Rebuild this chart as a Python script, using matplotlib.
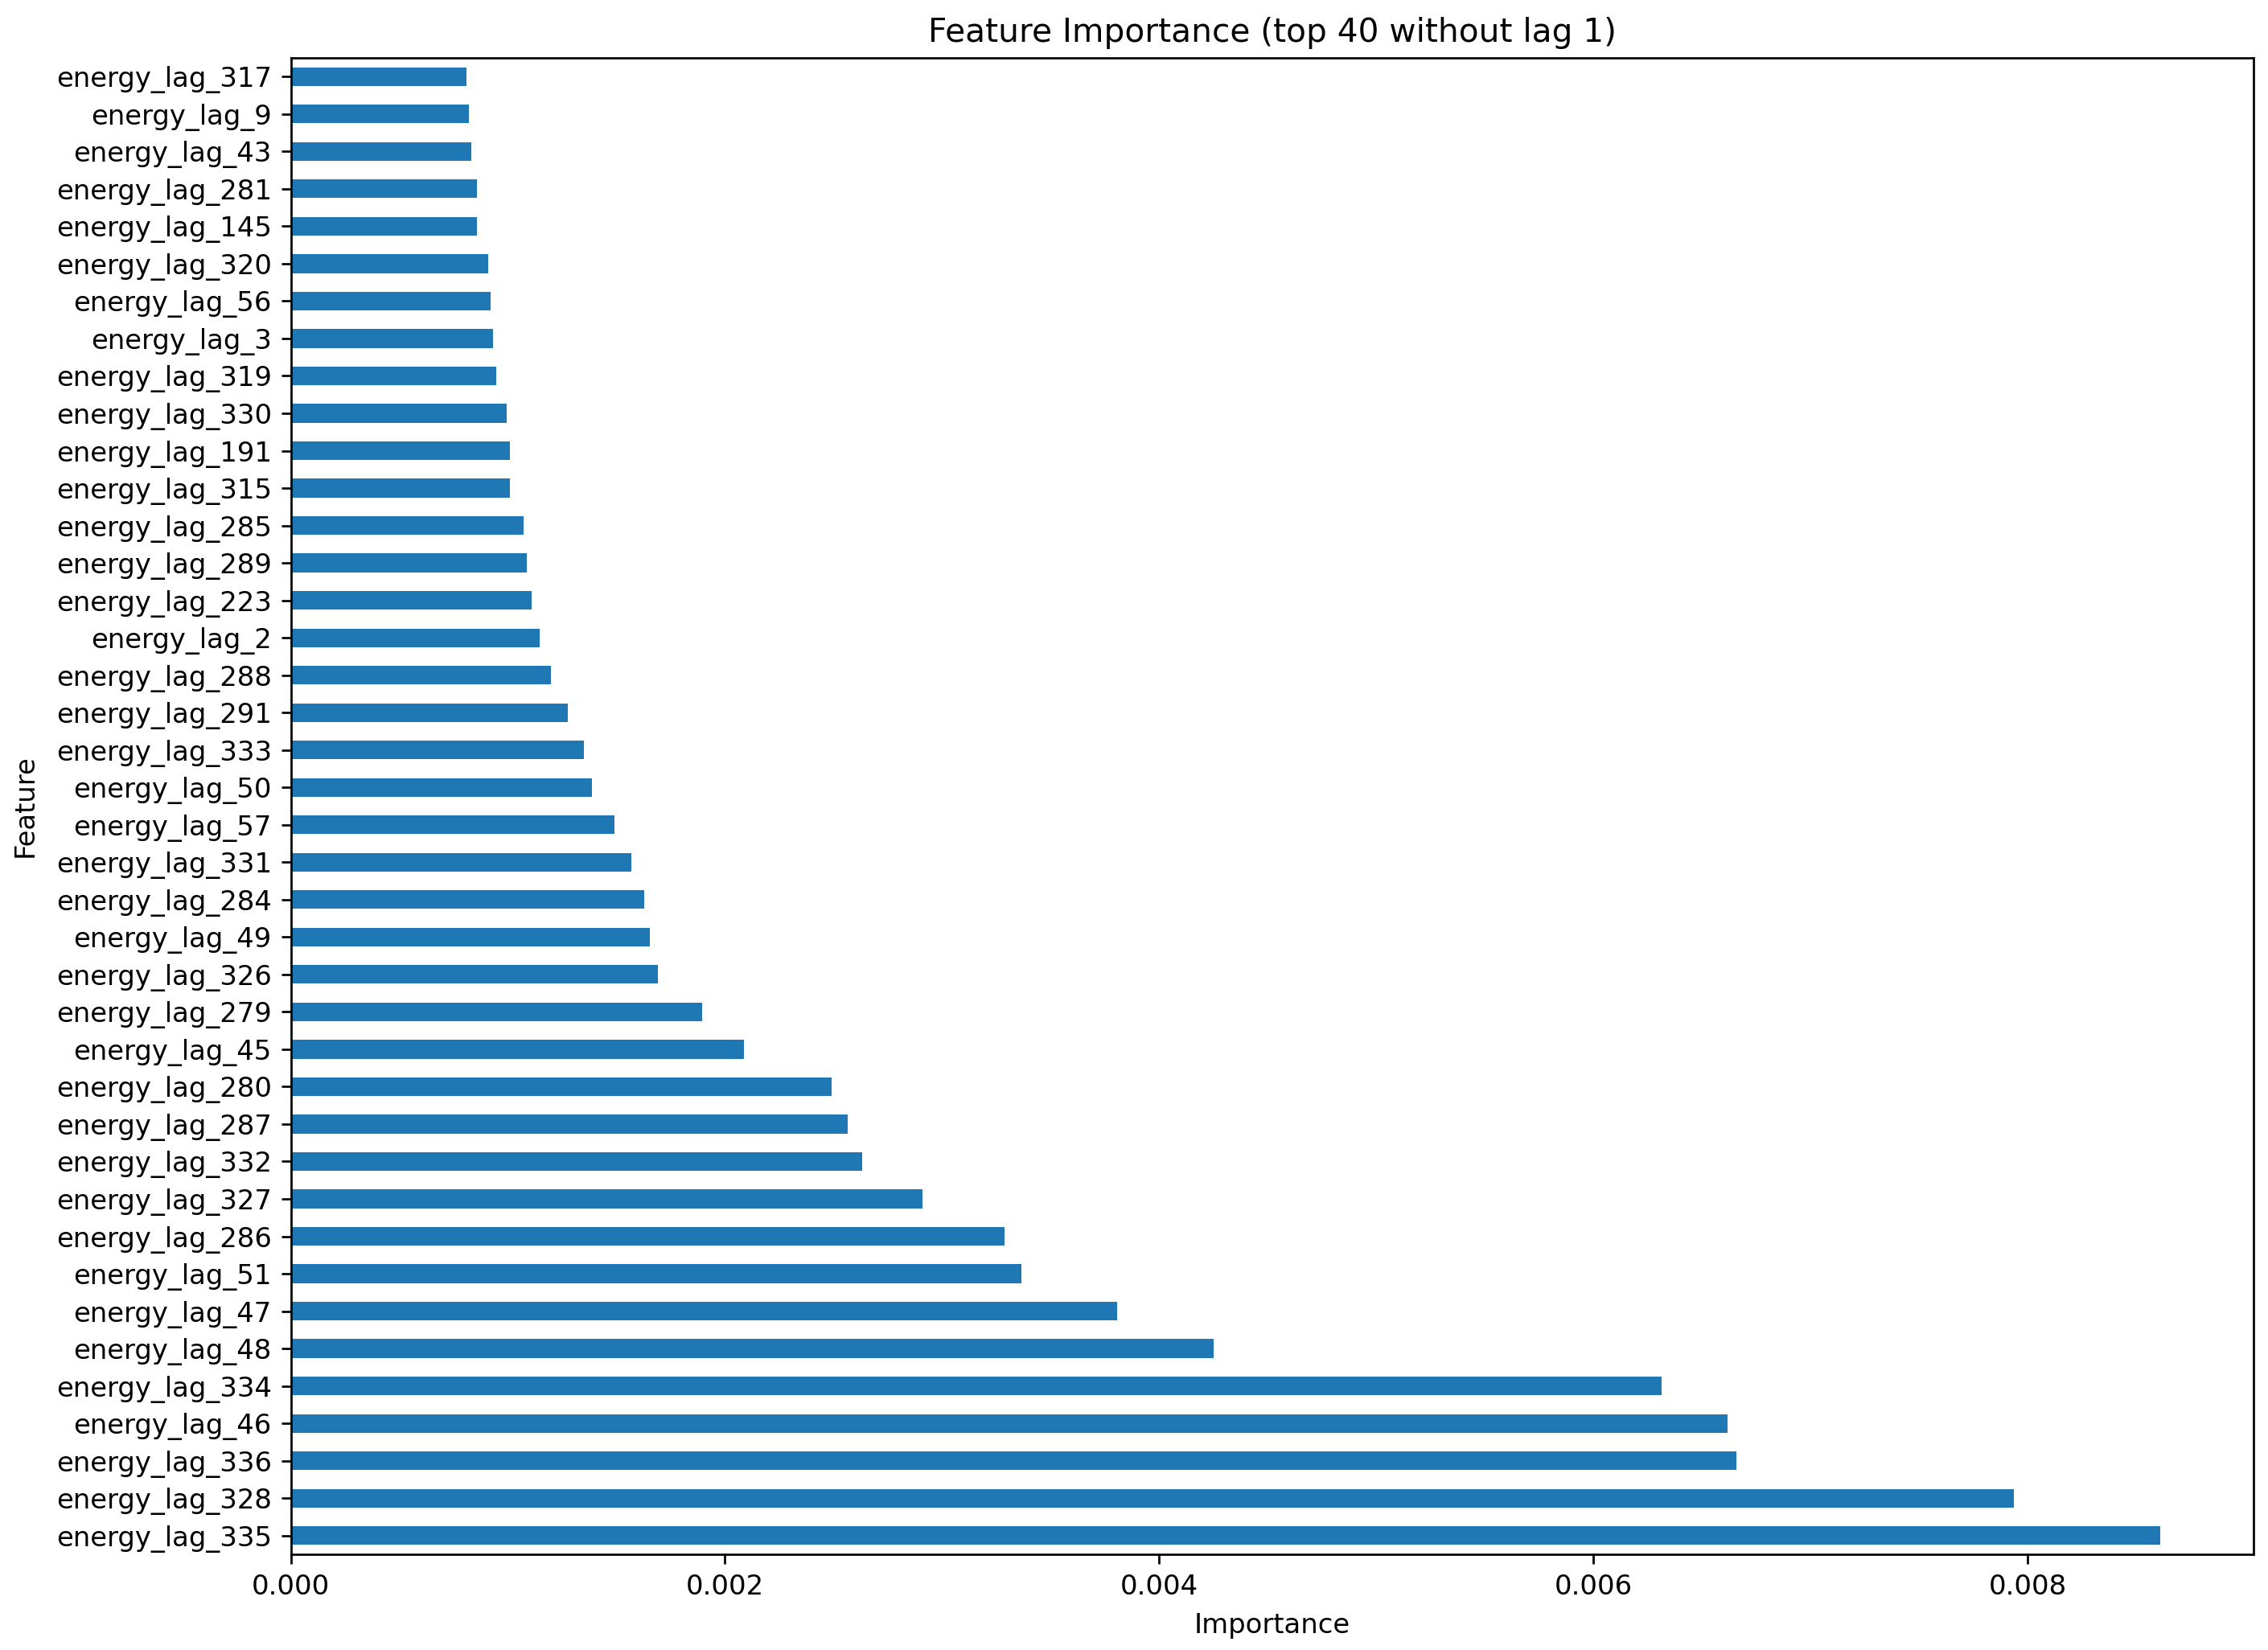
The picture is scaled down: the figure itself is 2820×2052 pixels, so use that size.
import matplotlib
matplotlib.use("Agg")
import matplotlib.pyplot as plt
import pandas as pd

features = [
    "energy_lag_335", "energy_lag_328", "energy_lag_336", "energy_lag_46", "energy_lag_334",
    "energy_lag_48", "energy_lag_47", "energy_lag_51", "energy_lag_286", "energy_lag_327",
    "energy_lag_332", "energy_lag_287", "energy_lag_280", "energy_lag_45", "energy_lag_279",
    "energy_lag_326", "energy_lag_49", "energy_lag_284", "energy_lag_331", "energy_lag_57",
    "energy_lag_50", "energy_lag_333", "energy_lag_291", "energy_lag_288", "energy_lag_2",
    "energy_lag_223", "energy_lag_289", "energy_lag_285", "energy_lag_315", "energy_lag_191",
    "energy_lag_330", "energy_lag_319", "energy_lag_3", "energy_lag_56", "energy_lag_320",
    "energy_lag_145", "energy_lag_281", "energy_lag_43", "energy_lag_9", "energy_lag_317",
]
importance = [
    0.008609, 0.007937, 0.006658, 0.006619, 0.006315,
    0.004251, 0.003807, 0.003364, 0.003288, 0.002909,
    0.002630, 0.002566, 0.002490, 0.002086, 0.001894,
    0.001692, 0.001654, 0.001629, 0.001567, 0.001490,
    0.001388, 0.001351, 0.001275, 0.001199, 0.001148,
    0.001110, 0.001086, 0.001073, 0.001008, 0.001008,
    0.000996, 0.000946, 0.000933, 0.000921, 0.000908,
    0.000858, 0.000858, 0.000832, 0.000819, 0.000808,
]

title = "Feature Importance (top 40 without lag 1)"

s = pd.Series(importance, index=pd.Index(features, name="Feature"))

DPI = 244
fig = plt.figure(figsize=(2820 / DPI, 2052 / DPI), dpi=DPI)
ax = fig.add_axes([0.1282, 0.0580, 0.9936 - 0.1282, 0.9649 - 0.0580])
s.plot.barh(ax=ax, color="#1f77b4")
ax.set_title(title)
ax.set_xlabel("Importance", labelpad=4.5)
ax.set_ylabel("Feature", labelpad=6.5)
fig.savefig("out.png", dpi=DPI)
